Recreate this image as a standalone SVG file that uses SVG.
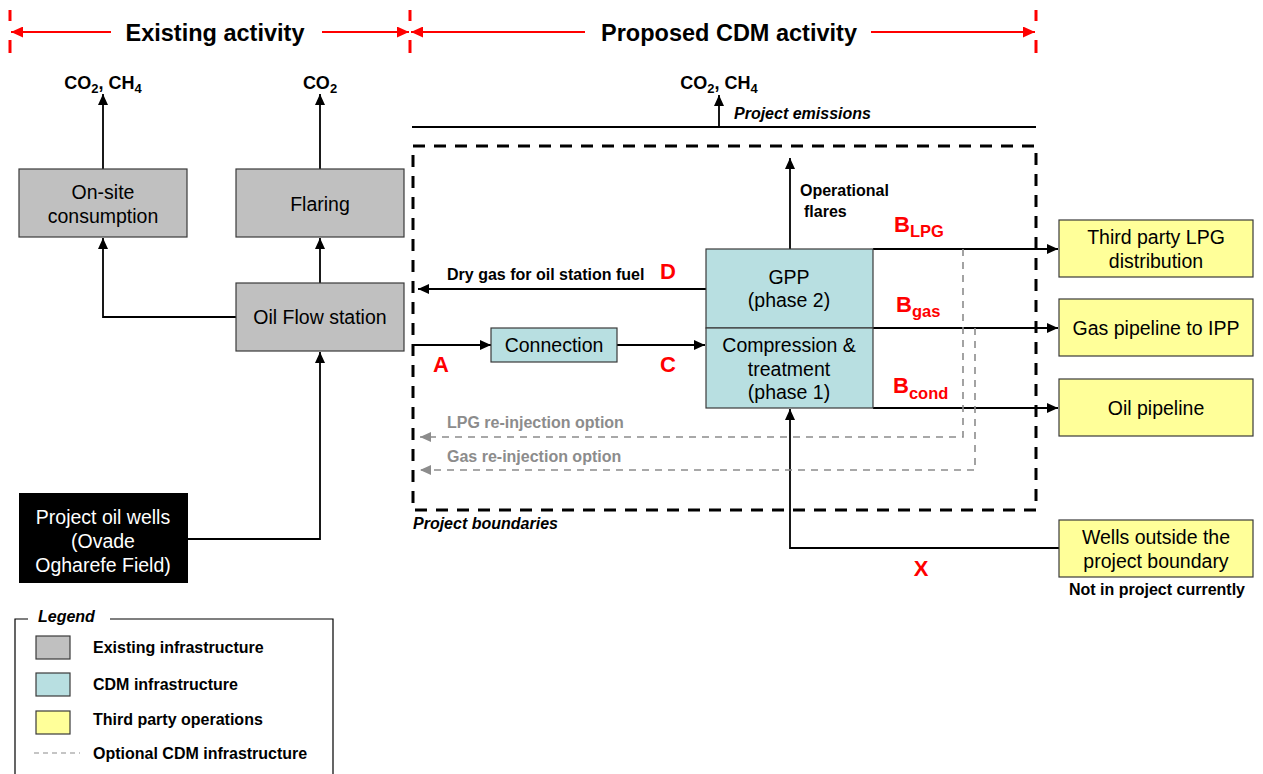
<svg xmlns="http://www.w3.org/2000/svg" width="1263" height="774" viewBox="0 0 1263 774">
  <defs>
    <marker id="arr" markerUnits="userSpaceOnUse" markerWidth="11" markerHeight="10" refX="11" refY="5" orient="auto">
      <path d="M0,0 L11,5 L0,10 z" fill="#000"/>
    </marker>
    <marker id="arrGray" markerUnits="userSpaceOnUse" markerWidth="11" markerHeight="10" refX="11" refY="5" orient="auto">
      <path d="M0,0 L11,5 L0,10 z" fill="#8c8c8c"/>
    </marker>
    <marker id="arrRed" markerUnits="userSpaceOnUse" markerWidth="12" markerHeight="11" refX="12" refY="5.5" orient="auto">
      <path d="M0,0 L12,5.5 L0,11 z" fill="#ff0000"/>
    </marker>
  </defs>
  <style>
    text { font-family: "Liberation Sans", Arial, sans-serif; }
    .box { stroke: #3a3a3a; stroke-width: 1.2; }
    .exist { fill: #c0c0c0; }
    .cdm { fill: #b8dfe1; }
    .third { fill: #ffff99; }
    .boxtxt { font-size: 19.5px; fill: #000; text-anchor: middle; }
    .lbl { font-size: 16px; font-weight: bold; fill: #000; }
    .ital { font-style: italic; }
    .gray { fill: #8c8c8c; }
    .red { fill: #ff0000; font-weight: bold; }
    .hdr { font-size: 23.5px; font-weight: bold; text-anchor: middle; }
    .gas { font-size: 18px; font-weight: bold; text-anchor: middle; }
    .flow { fill: none; stroke: #000; stroke-width: 1.8; }
    .opt { fill: none; stroke: #8c8c8c; stroke-width: 1.6; stroke-dasharray: 7 6; }
    .redline { fill: none; stroke: #ff0000; stroke-width: 2; }
    .redtick { stroke: #ff0000; stroke-width: 3; }
  </style>

  <!-- activity header -->
  <g id="header">
    <line class="redtick" x1="10" y1="10" x2="10" y2="21"/>
    <line class="redtick" x1="10" y1="40" x2="10" y2="53"/>
    <line class="redtick" x1="410" y1="10" x2="410" y2="21"/>
    <line class="redtick" x1="410" y1="40" x2="410" y2="53"/>
    <line class="redtick" x1="1036" y1="10" x2="1036" y2="21"/>
    <line class="redtick" x1="1036" y1="40" x2="1036" y2="53"/>
    <path class="redline" d="M111,32 H11" marker-end="url(#arrRed)"/>
    <path class="redline" d="M322,32 H409" marker-end="url(#arrRed)"/>
    <path class="redline" d="M585,32 H411" marker-end="url(#arrRed)"/>
    <path class="redline" d="M871,32 H1035" marker-end="url(#arrRed)"/>
    <text class="hdr" x="215" y="41">Existing activity</text>
    <text class="hdr" x="729" y="41">Proposed CDM activity</text>
  </g>

  <!-- emission labels -->
  <g id="emissions">
    <text class="gas" x="103" y="89">CO<tspan font-size="13" dy="4">2</tspan><tspan dy="-4">, CH</tspan><tspan font-size="13" dy="4">4</tspan></text>
    <text class="gas" x="320" y="89">CO<tspan font-size="13" dy="4">2</tspan></text>
    <text class="gas" x="719" y="89">CO<tspan font-size="13" dy="4">2</tspan><tspan dy="-4">, CH</tspan><tspan font-size="13" dy="4">4</tspan></text>
    <text class="lbl ital" x="734" y="119" font-size="15px">Project emissions</text>
  </g>

  <!-- project boundary -->
  <g id="boundary">
    <rect x="413" y="146" width="623" height="364" fill="none" stroke="#000" stroke-width="3" stroke-dasharray="12 9"/>
    <text class="lbl ital" x="413" y="529" font-size="15px">Project boundaries</text>
  </g>

  <!-- connectors -->
  <g id="connectors">
    <path class="flow" d="M188,539 H320 V352" marker-end="url(#arr)"/>
    <path class="flow" d="M320,283 V238" marker-end="url(#arr)"/>
    <path class="flow" d="M236,317 H103 V238" marker-end="url(#arr)"/>
    <path class="flow" d="M103,169 V94" marker-end="url(#arr)"/>
    <path class="flow" d="M320,169 V94" marker-end="url(#arr)"/>
    <path class="flow" d="M412,127 H1036"/>
    <path class="flow" d="M719,127 V95" marker-end="url(#arr)"/>
    <path class="flow" d="M790,249 V158" marker-end="url(#arr)"/>
    <path class="flow" d="M706,289 H418" marker-end="url(#arr)"/>
    <path class="flow" d="M414,345 H491" marker-end="url(#arr)"/>
    <path class="flow" d="M617,345 H705" marker-end="url(#arr)"/>
    <path class="flow" d="M873,249 H1058" marker-end="url(#arr)"/>
    <path class="flow" d="M873,328 H1058" marker-end="url(#arr)"/>
    <path class="flow" d="M873,408 H1058" marker-end="url(#arr)"/>
    <path class="flow" d="M1059,548 H790 V409" marker-end="url(#arr)"/>
    <path class="opt" d="M963,249 V437 H420" marker-end="url(#arrGray)"/>
    <path class="opt" d="M975,328 V470 H420" marker-end="url(#arrGray)"/>
  </g>

  <!-- connector labels -->
  <g id="labels">
    <text class="lbl" x="800" y="196">Operational</text>
    <text class="lbl" x="804" y="217">flares</text>
    <text class="lbl" x="447" y="280">Dry gas for oil station fuel</text>
    <text class="lbl gray" x="447" y="428">LPG re-injection option</text>
    <text class="lbl gray" x="447" y="462">Gas re-injection option</text>
    <text class="red" x="668" y="279" font-size="22px" text-anchor="middle">D</text>
    <text class="red" x="441" y="372" font-size="22px" text-anchor="middle">A</text>
    <text class="red" x="668" y="372" font-size="22px" text-anchor="middle">C</text>
    <text class="red" x="921" y="576" font-size="22px" text-anchor="middle">X</text>
    <text class="red" x="894" y="232" font-size="22px">B<tspan font-size="16.5px" dy="5">LPG</tspan></text>
    <text class="red" x="896" y="312" font-size="22px">B<tspan font-size="16.5px" dy="5">gas</tspan></text>
    <text class="red" x="893" y="393" font-size="22px">B<tspan font-size="16.5px" dy="6">cond</tspan></text>
  </g>

  <!-- existing infrastructure -->
  <g id="onsite">
    <rect class="box exist" x="19" y="169" width="168" height="68"/>
    <text class="boxtxt" x="103" y="199">On-site</text>
    <text class="boxtxt" x="103" y="223">consumption</text>
  </g>
  <g id="flaring">
    <rect class="box exist" x="236" y="169" width="168" height="68"/>
    <text class="boxtxt" x="320" y="211">Flaring</text>
  </g>
  <g id="flowstation">
    <rect class="box exist" x="236" y="283" width="168" height="68"/>
    <text class="boxtxt" x="320" y="324">Oil Flow station</text>
  </g>
  <g id="oilwells">
    <rect x="19" y="493" width="169" height="90" fill="#000"/>
    <text class="boxtxt" x="103" y="524" style="fill:#fff">Project oil wells</text>
    <text class="boxtxt" x="103" y="548" style="fill:#fff">(Ovade</text>
    <text class="boxtxt" x="103" y="572" style="fill:#fff">Ogharefe Field)</text>
  </g>

  <!-- CDM infrastructure -->
  <g id="connection">
    <rect class="box cdm" x="491" y="328" width="126" height="34"/>
    <text class="boxtxt" x="554" y="352">Connection</text>
  </g>
  <g id="gpp">
    <rect class="box cdm" x="706" y="249" width="167" height="79"/>
    <text class="boxtxt" x="789" y="284">GPP</text>
    <text class="boxtxt" x="789" y="307">(phase 2)</text>
  </g>
  <g id="compression">
    <rect class="box cdm" x="706" y="328" width="167" height="80"/>
    <text class="boxtxt" x="789" y="352">Compression &amp;</text>
    <text class="boxtxt" x="789" y="376">treatment</text>
    <text class="boxtxt" x="789" y="399">(phase 1)</text>
  </g>

  <!-- third party operations -->
  <g id="lpgdist">
    <rect class="box third" x="1059" y="220" width="194" height="57"/>
    <text class="boxtxt" x="1156" y="244">Third party LPG</text>
    <text class="boxtxt" x="1156" y="268">distribution</text>
  </g>
  <g id="gaspipeline">
    <rect class="box third" x="1059" y="299" width="194" height="57"/>
    <text class="boxtxt" x="1156" y="335">Gas pipeline to IPP</text>
  </g>
  <g id="oilpipeline">
    <rect class="box third" x="1059" y="379" width="194" height="57"/>
    <text class="boxtxt" x="1156" y="415">Oil pipeline</text>
  </g>
  <g id="outsidewells">
    <rect class="box third" x="1059" y="520" width="194" height="57"/>
    <text class="boxtxt" x="1156" y="544">Wells outside the</text>
    <text class="boxtxt" x="1156" y="568">project boundary</text>
    <text class="lbl" x="1157" y="595" font-size="15px" text-anchor="middle">Not in project currently</text>
  </g>

  <!-- legend -->
  <g id="legend">
    <path d="M28,619 H15 V774 M110,619 H333 V774" fill="none" stroke="#000" stroke-width="1.2"/>
    <text class="lbl ital" x="38" y="622" font-size="15.5px">Legend</text>
    <rect class="box exist" x="36" y="636" width="34" height="23"/>
    <text class="lbl" x="93" y="653">Existing infrastructure</text>
    <rect class="box cdm" x="36" y="673" width="34" height="23"/>
    <text class="lbl" x="93" y="690">CDM infrastructure</text>
    <rect class="box third" x="36" y="711" width="34" height="23"/>
    <text class="lbl" x="93" y="725">Third party operations</text>
    <line x1="34" y1="753" x2="80" y2="753" stroke="#8c8c8c" stroke-width="1.2" stroke-dasharray="5 4"/>
    <text class="lbl" x="93" y="759">Optional CDM infrastructure</text>
  </g>
</svg>
